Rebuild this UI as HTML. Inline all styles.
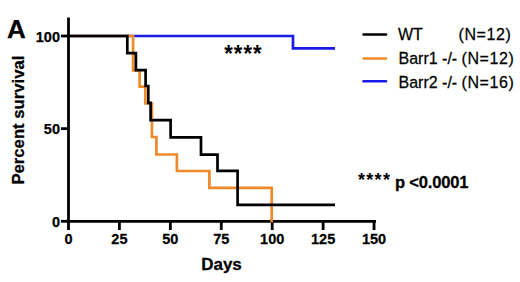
<!DOCTYPE html>
<html><head><meta charset="utf-8">
<style>
html,body{margin:0;padding:0;background:#fff;width:520px;height:282px;overflow:hidden}
svg{display:block}
text{font-family:"Liberation Sans",sans-serif;fill:#000;stroke:#000;stroke-width:0.25px}
</style></head><body>
<svg width="520" height="282" viewBox="0 0 520 282">
<rect width="520" height="282" fill="#fff"/>
<g fill="none" stroke-width="2.7" stroke-linejoin="miter" stroke-linecap="butt">
<polyline stroke="#1a1ae6" points="68.5,36 293,36 293,48.3 335,48.3"/>
<polyline stroke="#ee8a2a" points="68.5,36 133.1,36 133.1,70.4 139.6,70.4 139.6,86.6 145.3,86.6 145.3,103.5 151.9,103.5 151.9,137 156.4,137 156.4,154.5 176.9,154.5 176.9,171 209.4,171 209.4,187.8 271.7,187.8 271.7,221.3"/>
<polyline stroke="#000" points="68.5,36 127.3,36 127.3,53.2 135.9,53.2 135.9,70.2 145.6,70.2 145.6,86 148.3,86 148.3,102.8 150.6,102.8 150.6,120.2 170.6,120.2 170.6,137.4 201,137.4 201,154.6 217.5,154.6 217.5,170.8 237.6,170.8 237.6,204.9 335,204.9"/>
</g>
<g stroke="#000" stroke-width="2.8" fill="none"><line x1="68.5" y1="17.5" x2="68.5" y2="222.3"/><line x1="67.2" y1="221.3" x2="376" y2="221.3"/><line x1="61" y1="36.0" x2="68.5" y2="36.0"/><line x1="61" y1="128.65" x2="68.5" y2="128.65"/><line x1="61" y1="221.3" x2="68.5" y2="221.3"/><line x1="68.50" y1="221.3" x2="68.50" y2="230"/><line x1="119.42" y1="221.3" x2="119.42" y2="230"/><line x1="170.35" y1="221.3" x2="170.35" y2="230"/><line x1="221.28" y1="221.3" x2="221.28" y2="230"/><line x1="272.20" y1="221.3" x2="272.20" y2="230"/><line x1="323.12" y1="221.3" x2="323.12" y2="230"/><line x1="374.05" y1="221.3" x2="374.05" y2="230"/></g>
<line x1="271.7" y1="219" x2="271.7" y2="222.4" stroke="#ee8a2a" stroke-width="2.7"/>
<text x="60" y="41.9" font-size="14.5" font-weight="bold" text-anchor="end" transform="matrix(1 0 0 1.0 0 -0.000)">100</text>
<text x="60" y="134.3" font-size="14.5" font-weight="bold" text-anchor="end" transform="matrix(1 0 0 1.0 0 -0.000)">50</text>
<text x="60" y="227.2" font-size="14.5" font-weight="bold" text-anchor="end" transform="matrix(1 0 0 1.0 0 -0.000)">0</text>
<text x="68.50" y="244.2" font-size="14.5" font-weight="bold" text-anchor="middle" transform="matrix(1 0 0 1.02 0 -4.884)">0</text>
<text x="119.42" y="244.2" font-size="14.5" font-weight="bold" text-anchor="middle" transform="matrix(1 0 0 1.02 0 -4.884)">25</text>
<text x="170.35" y="244.2" font-size="14.5" font-weight="bold" text-anchor="middle" transform="matrix(1 0 0 1.02 0 -4.884)">50</text>
<text x="221.28" y="244.2" font-size="14.5" font-weight="bold" text-anchor="middle" transform="matrix(1 0 0 1.02 0 -4.884)">75</text>
<text x="272.20" y="244.2" font-size="14.5" font-weight="bold" text-anchor="middle" transform="matrix(1 0 0 1.02 0 -4.884)">100</text>
<text x="323.12" y="244.2" font-size="14.5" font-weight="bold" text-anchor="middle" transform="matrix(1 0 0 1.02 0 -4.884)">125</text>
<text x="374.05" y="244.2" font-size="14.5" font-weight="bold" text-anchor="middle" transform="matrix(1 0 0 1.02 0 -4.884)">150</text>
<text x="7" y="37.8" font-size="26" font-weight="bold" text-anchor="start" transform="matrix(1 0 0 1.0 0 -0.000)">A</text>
<g transform="translate(23.5,120.1) rotate(-90)"><text x="0" y="0" font-size="16.7" font-weight="bold" text-anchor="middle" transform="matrix(1 0 0 1.0 0 -0.000)">Percent survival</text></g>
<text x="221.5" y="270.2" font-size="17" font-weight="bold" text-anchor="middle" transform="matrix(1 0 0 1.01 0 -2.702)">Days</text>
<text x="224.2" y="62.2" font-size="22" font-weight="bold" text-anchor="start" letter-spacing="1.05" transform="matrix(1 0 0 1.12 0 -7.464)" style="stroke:none">****</text>
<g stroke-width="2.5" stroke-linecap="round" fill="none"><line x1="363.5" y1="34.5" x2="386" y2="34.5" stroke="#000"/><line x1="363.5" y1="58.4" x2="386" y2="58.4" stroke="#ee8a2a"/><line x1="363.5" y1="81.2" x2="386" y2="81.2" stroke="#1a1ae6"/></g>
<text x="398" y="40.5" font-size="16" font-weight="normal" text-anchor="start" transform="matrix(1 0 0 1.02 0 -0.810)">WT</text>
<text x="458.5" y="40.5" font-size="16" font-weight="normal" text-anchor="start" letter-spacing="0.6" transform="matrix(1 0 0 1.02 0 -0.810)">(N=12)</text>
<text x="398.5" y="64.2" font-size="16" font-weight="normal" text-anchor="start" transform="matrix(1 0 0 1.02 0 -1.284)">Barr1 -/- </text>
<text x="461.5" y="64.2" font-size="16" font-weight="normal" text-anchor="start" letter-spacing="0.6" transform="matrix(1 0 0 1.02 0 -1.284)">(N=12)</text>
<text x="398.5" y="87.8" font-size="16" font-weight="normal" text-anchor="start" transform="matrix(1 0 0 1.02 0 -1.756)">Barr2 -/- </text>
<text x="461.5" y="87.8" font-size="16" font-weight="normal" text-anchor="start" letter-spacing="0.6" transform="matrix(1 0 0 1.02 0 -1.756)">(N=16)</text>
<text x="358" y="186.1" font-size="18" font-weight="bold" text-anchor="start" letter-spacing="1.3" transform="matrix(1 0 0 1.0 0 -0.000)" style="stroke:none">****</text>
<text x="395" y="188.5" font-size="16.6" font-weight="bold" text-anchor="start" letter-spacing="-0.2" transform="matrix(1 0 0 1.03 0 -5.655)">p &lt;0.0001</text>
</svg>
</body></html>
